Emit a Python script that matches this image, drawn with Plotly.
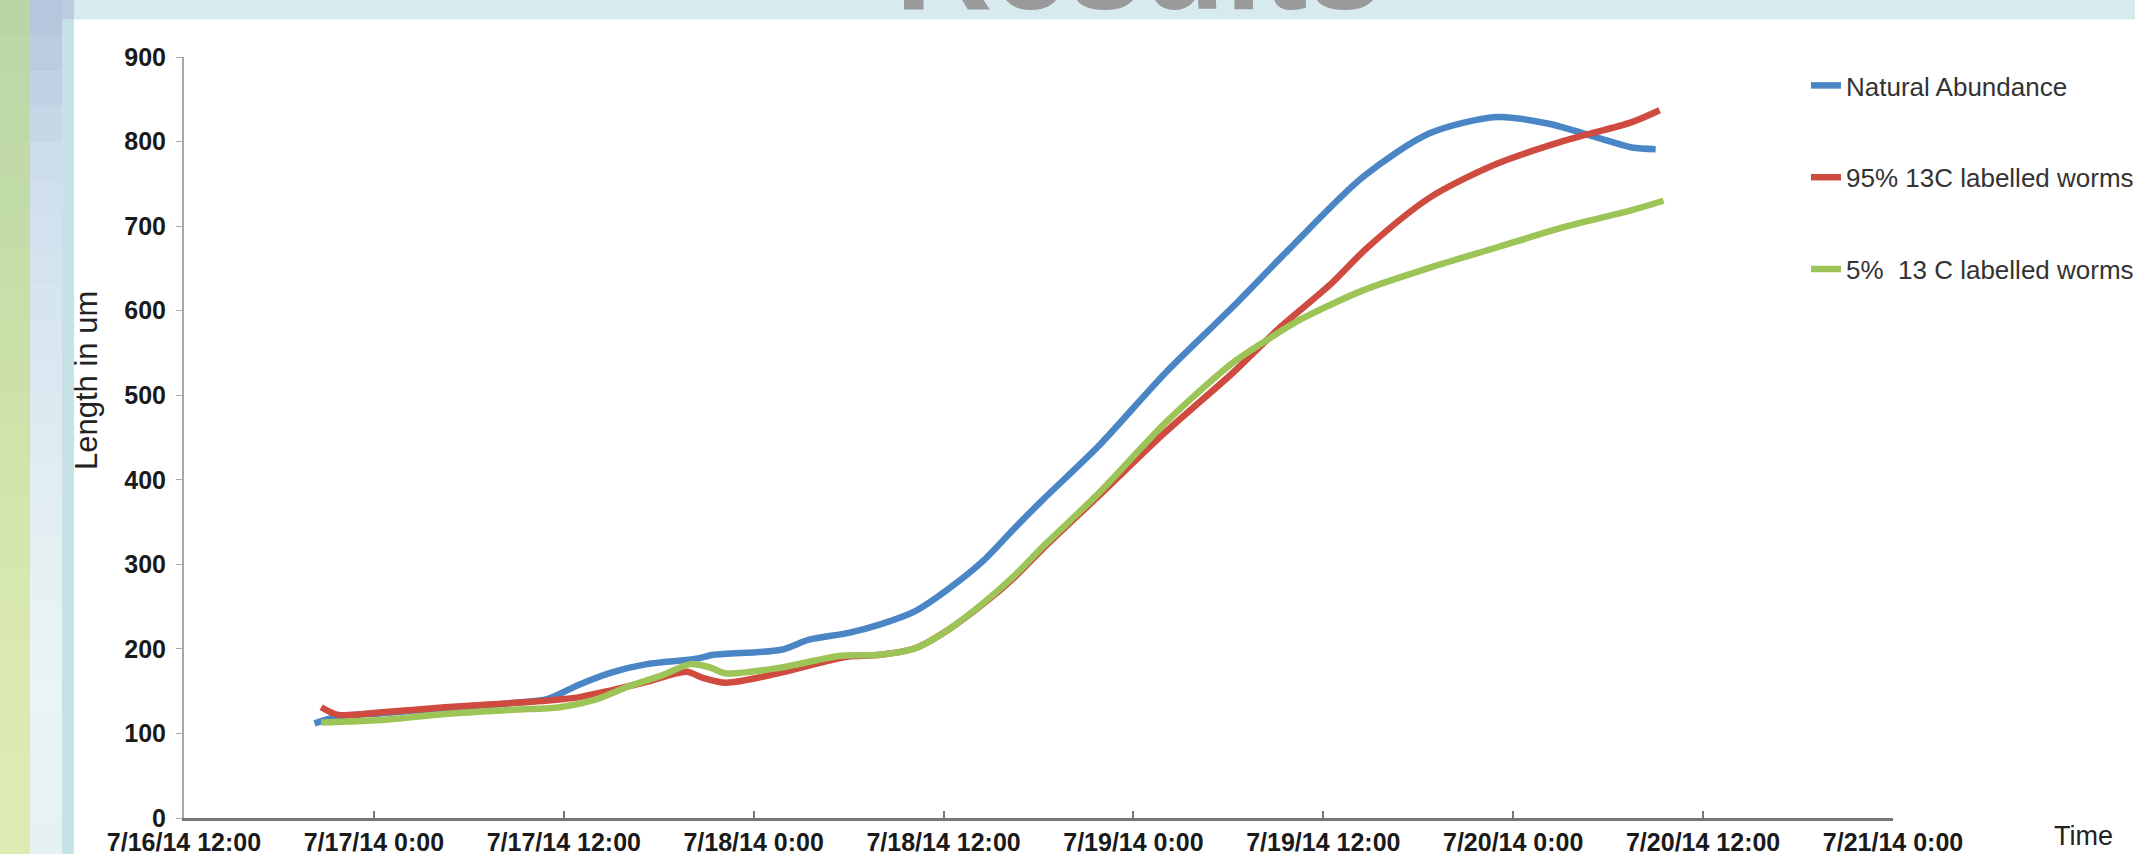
import plotly.graph_objects as go

# ---------------- data ----------------
natural_time = ["2014-07-16 20:15", "2014-07-16 21:45", "2014-07-17 00:30", "2014-07-17 04:30",
                "2014-07-17 08:45", "2014-07-17 11:00", "2014-07-17 13:00", "2014-07-17 15:00",
                "2014-07-17 17:15", "2014-07-17 20:15", "2014-07-17 21:30", "2014-07-18 01:45",
                "2014-07-18 03:30", "2014-07-18 06:00", "2014-07-18 08:00", "2014-07-18 10:15",
                "2014-07-18 12:15", "2014-07-18 14:30", "2014-07-18 16:30", "2014-07-18 18:15",
                "2014-07-18 21:45", "2014-07-19 02:00", "2014-07-19 06:15", "2014-07-19 09:45",
                "2014-07-19 14:30", "2014-07-19 18:45", "2014-07-19 23:00", "2014-07-20 02:15",
                "2014-07-20 05:15", "2014-07-20 07:30", "2014-07-20 09:00"]
natural_len = [112, 120, 124, 130, 136, 141, 158, 172, 182, 188, 193, 199, 211, 219, 229, 245,
               270, 304, 343, 376, 439, 526, 604, 671, 758, 810, 829, 821, 805, 793, 791]

c95_time = ["2014-07-16 20:40", "2014-07-16 21:45", "2014-07-17 00:30", "2014-07-17 04:30",
            "2014-07-17 08:45", "2014-07-17 11:00", "2014-07-17 13:00", "2014-07-17 15:00",
            "2014-07-17 17:15", "2014-07-17 19:45", "2014-07-17 20:45", "2014-07-17 22:15",
            "2014-07-18 01:45", "2014-07-18 04:30", "2014-07-18 06:00", "2014-07-18 08:00",
            "2014-07-18 10:15", "2014-07-18 12:15", "2014-07-18 14:30", "2014-07-18 16:30",
            "2014-07-18 18:15", "2014-07-18 21:45", "2014-07-19 02:00", "2014-07-19 06:15",
            "2014-07-19 09:15", "2014-07-19 12:30", "2014-07-19 14:45", "2014-07-19 18:45",
            "2014-07-19 23:00", "2014-07-20 03:15", "2014-07-20 07:30", "2014-07-20 09:15"]
c95_len = [131, 122, 125, 131, 136, 139, 143, 151, 161, 173, 166, 160, 172, 185, 191, 193,
           201, 222, 253, 285, 318, 380, 456, 526, 580, 632, 674, 734, 774, 801, 823, 837]

c5_time = ["2014-07-16 20:40", "2014-07-17 00:30", "2014-07-17 04:30", "2014-07-17 08:45",
           "2014-07-17 11:45", "2014-07-17 14:00", "2014-07-17 16:00", "2014-07-17 18:15",
           "2014-07-17 20:00", "2014-07-17 21:15", "2014-07-17 22:15", "2014-07-18 01:45",
           "2014-07-18 05:30", "2014-07-18 08:00", "2014-07-18 10:15", "2014-07-18 12:15",
           "2014-07-18 14:30", "2014-07-18 16:30", "2014-07-18 18:30", "2014-07-18 21:45",
           "2014-07-19 02:00", "2014-07-19 06:15", "2014-07-19 08:30", "2014-07-19 10:30",
           "2014-07-19 14:30", "2014-07-19 18:45", "2014-07-19 23:00", "2014-07-20 03:15",
           "2014-07-20 07:30", "2014-07-20 09:30"]
c5_len = [113, 116, 123, 128, 131, 140, 155, 169, 182, 178, 171, 178, 192, 193, 201, 222,
          254, 287, 325, 383, 467, 538, 566, 589, 624, 651, 675, 699, 719, 730]

series_names = ["Natural Abundance", "95% 13C labelled worms", "5%  13 C labelled worms"]

tick_dates = ["2014-07-16 12:00", "2014-07-17 00:00", "2014-07-17 12:00", "2014-07-18 00:00",
              "2014-07-18 12:00", "2014-07-19 00:00", "2014-07-19 12:00", "2014-07-20 00:00",
              "2014-07-20 12:00", "2014-07-21 00:00"]
tick_labels = ["7/16/14 12:00", "7/17/14 0:00", "7/17/14 12:00", "7/18/14 0:00",
               "7/18/14 12:00", "7/19/14 0:00", "7/19/14 12:00", "7/20/14 0:00",
               "7/20/14 12:00", "7/21/14 0:00"]
y_ticks = [0, 100, 200, 300, 400, 500, 600, 700, 800, 900]

# ---------------- figure ----------------
W, H = 2135, 854
ML, MR, MT, MB = 184, 242, 57, 36
PW, PH = W - ML - MR, H - MT - MB

def px_x(px):
    return (px - ML) / PW

def px_y(py):
    return (H - MB - py) / PH

colors = ["#4A86C6", "#CF4A3F", "#9DC456"]
fig = go.Figure()
for i, (t, v) in enumerate([(natural_time, natural_len), (c95_time, c95_len), (c5_time, c5_len)]):
    fig.add_trace(go.Scatter(
        x=t, y=v, mode="lines", name=series_names[i], legendgroup=f"g{i}",
        line=dict(color=colors[i], width=6.5, shape="spline", smoothing=0.8),
    ))

FONT = "Liberation Sans, Arial, sans-serif"

shapes = []

def lerp_hex(c0, c1, f):
    a = [int(c0[k:k + 2], 16) for k in (1, 3, 5)]
    b = [int(c1[k:k + 2], 16) for k in (1, 3, 5)]
    return "#" + "".join(f"{round(a[j] + (b[j] - a[j]) * f):02x}" for j in range(3))

def band(x0, x1, y0, y1, stops, n=24):
    # vertical gradient through colour stops
    m = len(stops) - 1
    for k in range(n):
        f = (k + 0.5) / n
        seg = min(int(f * m), m - 1) if m > 0 else 0
        c = stops[0] if m == 0 else lerp_hex(stops[seg], stops[seg + 1], f * m - seg)
        ya = y0 + (y1 - y0) * k / n
        yb = y0 + (y1 - y0) * (k + 1) / n + 0.5
        shapes.append(dict(type="rect", xref="paper", yref="paper",
                           x0=px_x(x0), x1=px_x(x1), y0=px_y(ya), y1=px_y(yb),
                           fillcolor=c, line=dict(width=0), layer="below"))

# slide background pieces
band(0, W, 0, 19, ["#d7eaee"], n=1)
band(0, 30, 0, H, ["#bad6a6", "#c3dca8", "#cfe3aa", "#d9e9b0", "#dfecb4"])
band(30, 62, 0, H, ["#b5c3db", "#cfdeec", "#dae7f1", "#e2eef2", "#e9f4f4", "#e6f2f2"])
band(62, 74, 0, 19, ["#bccbe0"], n=1)
band(62, 74, 19, H, ["#c7e2e6"], n=1)

fig.update_layout(
    width=W, height=H,
    margin=dict(l=ML, r=MR, t=MT, b=MB, autoexpand=False),
    paper_bgcolor="white", plot_bgcolor="white",
    font=dict(family=FONT, color="#222222"),
    shapes=shapes,
    showlegend=True,
    legend=dict(x=px_x(1806), y=px_y(62), xanchor="left", yanchor="top",
                font=dict(size=26, color="#333333", family=FONT),
                tracegroupgap=55, itemwidth=30, bgcolor="rgba(0,0,0,0)",
                traceorder="grouped"),
    xaxis=dict(type="date", range=[tick_dates[0], tick_dates[-1]],
               tickvals=tick_dates, ticktext=tick_labels,
               ticks="inside", ticklen=7, tickwidth=2, tickcolor="#777777",
               showline=True, linecolor="#777777", linewidth=3,
               showgrid=False, zeroline=False,
               tickfont=dict(size=25, color="#1a1a1a", family=FONT, weight="bold")),
    yaxis=dict(range=[0, 900], tickvals=y_ticks,
               ticks="outside", ticklen=6, tickwidth=1, tickcolor="#a8a8a8",
               showline=True, linecolor="#a8a8a8", linewidth=2,
               showgrid=False, zeroline=False, ticklabelstandoff=5,
               tickfont=dict(size=25, color="#1a1a1a", family=FONT, weight="bold")),
    annotations=[
        dict(text="Length in um", textangle=-90, xref="paper", yref="paper",
             x=px_x(86), y=px_y(381), xanchor="center", yanchor="middle", showarrow=False,
             font=dict(size=31, color="#222222", family=FONT)),
        dict(text="Time", xref="paper", yref="paper", x=px_x(2083), y=px_y(836),
             xanchor="center", yanchor="middle", showarrow=False,
             font=dict(size=27, color="#222222", family=FONT)),
        dict(text="Results", xref="paper", yref="paper", x=px_x(1139), y=px_y(40),
             xanchor="center", yanchor="bottom", showarrow=False,
             font=dict(size=135, color="#9a9a9a", family=FONT, weight="bold")),
    ],
)

fig.write_html("out.html")
